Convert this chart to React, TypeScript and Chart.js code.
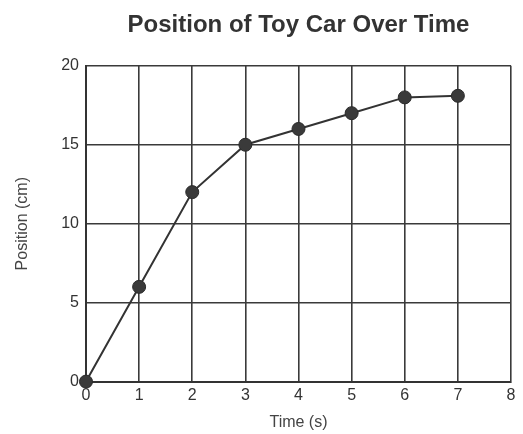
import React, { useEffect, useRef } from "react";
import { Chart, registerables } from "chart.js";

Chart.register(...registerables);

const times = [0, 1, 2, 3, 4, 5, 6, 7];
const positions = [0, 6, 12, 15, 16, 17, 18, 18.1];
const titleText = "Position of Toy Car Over Time";
const xTitle = "Time (s)";
const yTitle = "Position (cm)";

export default function App() {
  const ref = useRef<HTMLCanvasElement | null>(null);
  useEffect(() => {
    if (!ref.current) return;
    const chart = new Chart(ref.current, {
      type: "line",
      data: {
        datasets: [
          {
            data: times.map((t, i) => ({ x: t, y: positions[i] })),
            borderColor: "#333",
            borderWidth: 2,
            pointRadius: 6.5,
            pointBackgroundColor: "#3a3a3a",
            pointBorderColor: "#2a2a2a",
            pointBorderWidth: 1,
            tension: 0,
            clip: false,
          },
        ],
      },
      options: {
        animation: false,
        responsive: false,
        layout: { padding: { left: 13, right: 12, top: 0, bottom: 2 } },
        plugins: {
          legend: { display: false },
          tooltip: { enabled: false },
          title: {
            display: true,
            fullSize: false,
            text: titleText,
            color: "#333",
            font: { family: "Liberation Sans", size: 24, weight: "bold" },
            padding: { top: 11, bottom: 26 },
          },
        },
        scales: {
          x: {
            type: "linear",
            min: 0,
            max: 8,
            ticks: {
              stepSize: 1,
              color: "#333",
              font: { family: "Liberation Sans", size: 16 },
              padding: 4,
            },
            grid: { color: "#3a3a3a", lineWidth: 1.6, drawTicks: false },
            border: { color: "#333", width: 2 },
            title: {
              display: true,
              text: xTitle,
              color: "#444",
              font: { family: "Liberation Sans", size: 16 },
              padding: { top: 4, bottom: 0 },
            },
          },
          y: {
            min: 0,
            max: 20,
            ticks: {
              stepSize: 5,
              color: "#333",
              font: { family: "Liberation Sans", size: 16 },
              padding: 7,
            },
            grid: { color: "#3a3a3a", lineWidth: 1.6, drawTicks: false },
            border: { color: "#333", width: 2 },
            title: {
              display: true,
              text: yTitle,
              color: "#444",
              font: { family: "Liberation Sans", size: 16 },
              padding: { top: 0, bottom: 22 },
            },
          },
        },
      },
    });
    return () => chart.destroy();
  }, []);
  return (
    <div style={{ position: "absolute", left: 0, top: 0, width: 523, height: 434, background: "#fff" }}>
      <canvas ref={ref} width={523} height={434} />
    </div>
  );
}
